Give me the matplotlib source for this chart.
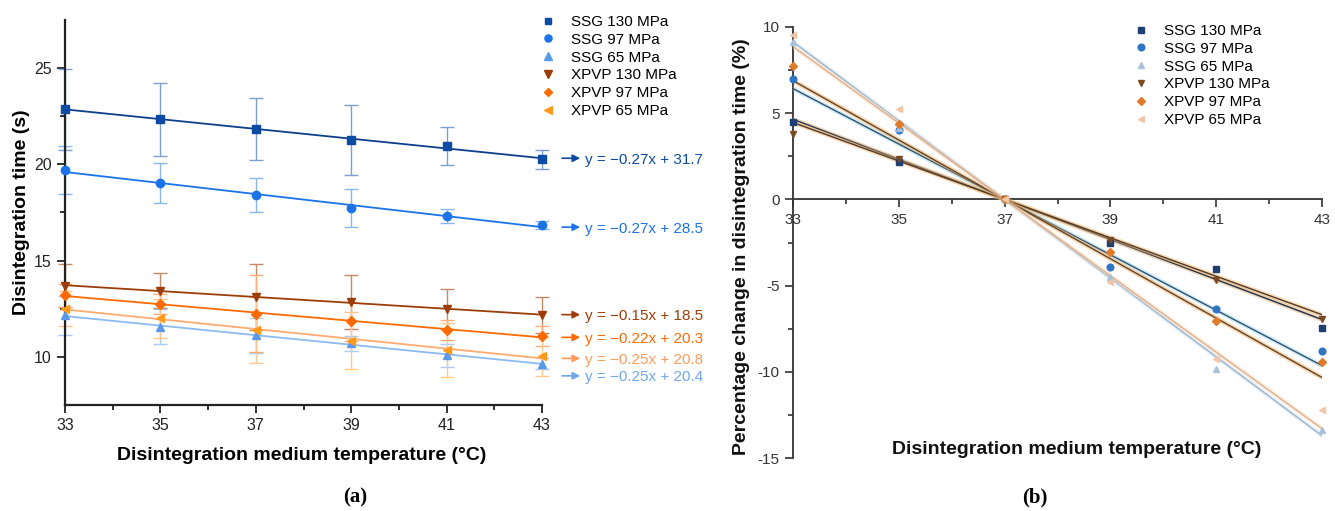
import numpy as np
import matplotlib
matplotlib.use("Agg")
import matplotlib.pyplot as plt
import matplotlib.patheffects as pe

plt.rcParams['font.family'] = ['Liberation Sans', 'DejaVu Sans']

# ---------------- data ----------------
temps = [33, 35, 37, 39, 41, 43]
series_names = ['SSG 130 MPa', 'SSG 97 MPa', 'SSG 65 MPa',
                'XPVP 130 MPa', 'XPVP 97 MPa', 'XPVP 65 MPa']

# (a) disintegration time (s), mean and error
ssg130_t = [22.87, 22.35, 21.83, 21.26, 20.95, 20.27]
ssg130_e = [2.1, 1.9, 1.6, 1.8, 1.0, 0.5]
ssg97_t = [19.70, 19.03, 18.40, 17.73, 17.32, 16.85]
ssg97_e = [1.25, 1.05, 0.9, 1.0, 0.35, 0.2]
ssg65_t = [12.15, 11.57, 11.12, 10.70, 10.08, 9.65]
ssg65_e = [1.0, 0.9, 0.9, 0.4, 0.6, 0.3]
xpvp130_t = [13.70, 13.44, 13.10, 12.84, 12.49, 12.18]
xpvp130_e = [1.1, 0.9, 1.7, 1.4, 1.04, 0.93]
xpvp97_t = [13.20, 12.75, 12.25, 11.85, 11.40, 11.08]
xpvp97_e = [0.6, 0.5, 2.0, 1.0, 0.5, 0.5]
xpvp65_t = [12.50, 12.00, 11.40, 10.85, 10.37, 10.03]
xpvp65_e = [0.9, 1.0, 1.7, 1.5, 1.4, 1.0]

equations = ['y = \u22120.27x + 31.7', 'y = \u22120.27x + 28.5', 'y = \u22120.25x + 20.4',
             'y = \u22120.15x + 18.5', 'y = \u22120.22x + 20.3', 'y = \u22120.25x + 20.8']

# (b) percentage change in disintegration time (%), relative to 37 °C
ssg130_p = [4.50, 2.17, 0.0, -2.55, -4.02, -7.46]
ssg97_p = [6.98, 4.03, 0.0, -3.93, -6.34, -8.82]
ssg65_p = [9.15, 4.15, 0.0, -4.51, -9.82, -13.40]
xpvp130_p = [3.78, 2.34, 0.0, -2.38, -4.66, -6.92]
xpvp97_p = [7.76, 4.37, 0.0, -3.06, -7.08, -9.44]
xpvp65_p = [9.54, 5.24, 0.0, -4.80, -9.24, -12.20]

times = [ssg130_t, ssg97_t, ssg65_t, xpvp130_t, xpvp97_t, xpvp65_t]
errors = [ssg130_e, ssg97_e, ssg65_e, xpvp130_e, xpvp97_e, xpvp65_e]
pcts = [ssg130_p, ssg97_p, ssg65_p, xpvp130_p, xpvp97_p, xpvp65_p]

# ---------------- styles ----------------
markers = ['s', 'o', '^', 'v', 'D', '<']
msizes = [5.5, 6, 6, 6, 5, 6]
# panel a
a_mark = ['#0d4aa3', '#1a73e8', '#5b9ae8', '#9c3d08', '#ff6a00', '#ff9a1a']
a_line = ['#0d3f8c', '#1a73e8', '#8cbaf2', '#9c3d08', '#ff6a00', '#ffab70']
a_err = ['#7d9fd0', '#8ab6ef', '#a9cbf5', '#c48a68', '#ffad7a', '#ffc890']
a_text = ['#0d4aa3', '#1a73e8', '#6fa6ee', '#9c3d08', '#ff6a00', '#ff9a5a']
eq_shift = [0, 0, -0.62, 0, 0, 0]   # data units, keeps the two lowest labels apart
# panel b
b_mark = ['#1f3f73', '#2e75c4', '#a8c0d8', '#7a4a22', '#e07b2a', '#f2c6a6']
b_line = ['#22324a', '#34506c', '#9bb4cb', '#4e3a2c', '#5e4630', '#e2b088']
b_halo = ['#d9a766', '#8fd7f0', '#cfe3f2', '#f0b060', '#f5a040', '#f7dcc4']

fig = plt.figure(figsize=(13.35, 5.11), dpi=100)

# ================= (a) =================
ax1 = fig.add_axes([65 / 1335, 1 - 405 / 511, 477 / 1335, 385 / 511])
x = np.array(temps)
for i in range(6):
    ax1.errorbar(x, times[i], yerr=errors[i], fmt='none', ecolor=a_err[i],
                 elinewidth=1.0, capsize=5, capthick=1.0, zorder=2, clip_on=False)
    k, b = np.polyfit(x, times[i], 1)
    ax1.plot(x, k * x + b, color=a_line[i], lw=1.3, zorder=3)
    ax1.plot(x, times[i], ls='none', marker=markers[i], ms=msizes[i],
             color=a_mark[i], label=series_names[i], zorder=4, clip_on=False)
    yend = k * 43 + b + eq_shift[i]
    ax1.annotate('', xy=(43.80, yend), xytext=(43.42, yend),
                 xycoords='data', textcoords='data',
                 arrowprops=dict(arrowstyle='-|>', color=a_text[i],
                                 lw=1.2, mutation_scale=11, shrinkA=0, shrinkB=0),
                 annotation_clip=False)
    ax1.annotate(equations[i], xy=(43.90, yend), xytext=(0, -1),
                 textcoords='offset points', va='center', ha='left',
                 fontsize=11, color=a_text[i], annotation_clip=False)

ax1.set_xlim(33, 43)
ax1.set_ylim(7.5, 27.5)
ax1.set_xticks(temps)
ax1.set_xticks(np.arange(34, 43, 2), minor=True)
ax1.set_yticks([10, 15, 20, 25])
ax1.set_yticks([12.5, 17.5, 22.5], minor=True)
for s in ['top', 'right']:
    ax1.spines[s].set_visible(False)
for s in ['left', 'bottom']:
    ax1.spines[s].set_linewidth(1.6)
    ax1.spines[s].set_color('#222222')
ax1.tick_params(which='major', direction='out', length=6, width=1.3, labelsize=11.5,
                colors='#222222')
ax1.tick_params(which='minor', direction='out', length=3.5, width=1.3, colors='#222222')
ax1.set_xlabel('Disintegration medium temperature (\u00b0C)', fontsize=14, fontweight='bold')
ax1.set_ylabel('Disintegration time (s)', fontsize=14, fontweight='bold')
ax1.xaxis.set_label_coords(0.497, -0.11)
ax1.yaxis.set_label_coords(-0.074, 0.5)
ax1.legend(loc='upper left', bbox_to_anchor=(540 / 1335, 1 - 15 / 511),
           bbox_transform=fig.transFigure, frameon=False, fontsize=11,
           handlelength=1.0, handletextpad=1.0, labelspacing=0.25,
           borderpad=0, borderaxespad=0, markerscale=0.85)

# ================= (b) =================
ax2 = fig.add_axes([793 / 1335, 1 - 458 / 511, 529 / 1335, 431 / 511])
for i in range(6):
    # least squares line forced through (37, 0), the reference temperature
    dx = x - 37
    k = np.sum(dx * np.array(pcts[i])) / np.sum(dx * dx)
    ax2.plot(x, k * dx, color=b_line[i], lw=1.0, zorder=3,
             path_effects=[pe.Stroke(linewidth=3.2, foreground=b_halo[i], alpha=0.45),
                           pe.Normal()])
    ax2.plot(x, pcts[i], ls='none', marker=markers[i], ms=msizes[i] - 1.2,
             color=b_mark[i], label=series_names[i], zorder=4, clip_on=False)

ax2.set_xlim(33, 43)
ax2.set_ylim(-15, 10)
ax2.set_xticks(temps)
ax2.set_xticks(np.arange(34, 43, 2), minor=True)
ax2.set_yticks([-15, -10, -5, 0, 5, 10])
ax2.set_yticks([-12.5, -7.5, -2.5, 2.5, 7.5], minor=True)
ax2.set_yticklabels(['-15', '-10', '-5', '0', '5', '10'])
ax2.spines['bottom'].set_position(('data', 0))
for s in ['top', 'right']:
    ax2.spines[s].set_visible(False)
for s in ['left', 'bottom']:
    ax2.spines[s].set_linewidth(1.3)
    ax2.spines[s].set_color('#333333')
ax2.tick_params(which='major', direction='out', length=6, width=1.2, labelsize=11,
                colors='#333333')
ax2.tick_params(which='minor', direction='out', length=3.5, width=1.2, colors='#333333')
ax2.set_xlabel('Disintegration medium temperature (\u00b0C)', fontsize=14, fontweight='bold',
               color='#111111')
ax2.set_ylabel('Percentage change in disintegration time (%)', fontsize=14,
               fontweight='bold', color='#111111')
ax2.xaxis.set_label_coords(0.537, 0.04)
ax2.yaxis.set_label_coords(-0.081, 0.49)
ax2.legend(loc='upper left', bbox_to_anchor=(1133 / 1335, 1 - 24 / 511),
           bbox_transform=fig.transFigure, frameon=False, fontsize=11,
           handlelength=1.0, handletextpad=1.0, labelspacing=0.25,
           borderpad=0, borderaxespad=0, markerscale=1.0)

# panel captions
fig.text(355 / 1335, 1 - 497 / 511, '(a)', ha='center', va='center', fontsize=15,
         fontweight='bold', family='Liberation Serif')
fig.text(1035 / 1335, 1 - 497 / 511, '(b)', ha='center', va='center', fontsize=15,
         fontweight='bold', family='Liberation Serif')

fig.savefig('out.png', dpi=100)
